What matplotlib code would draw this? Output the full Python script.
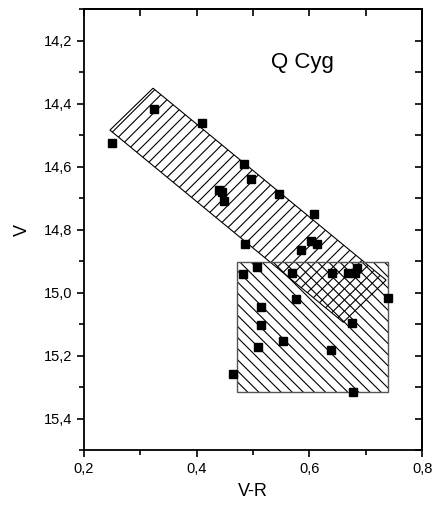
import matplotlib
matplotlib.use('Agg')
import matplotlib.pyplot as plt
from matplotlib.patches import Polygon, Rectangle
from matplotlib.ticker import FuncFormatter, MultipleLocator

plt.rcParams['font.family'] = ['Liberation Sans', 'DejaVu Sans']
plt.rcParams['hatch.linewidth'] = 0.8

# observed points (V-R, V)
vr = [0.250, 0.324, 0.409, 0.483, 0.496, 0.439, 0.445, 0.448, 0.546, 0.608,
      0.486, 0.603, 0.614, 0.585, 0.569, 0.640, 0.669, 0.681, 0.684, 0.576,
      0.739, 0.675, 0.507, 0.482, 0.514, 0.514, 0.553, 0.509, 0.639, 0.465,
      0.678]
v = [14.524, 14.418, 14.461, 14.590, 14.640, 14.673, 14.679, 14.708, 14.688, 14.750,
     14.844, 14.836, 14.847, 14.864, 14.937, 14.939, 14.937, 14.939, 14.923, 15.021,
     15.017, 15.096, 14.920, 14.942, 15.045, 15.102, 15.153, 15.172, 15.183, 15.259,
     15.315]

# hatched regions
band_vr = [0.246, 0.3225, 0.736, 0.660]
band_v = [14.484, 14.351, 14.960, 15.094]
box_vr = [0.471, 0.739]
box_v = [14.902, 15.315]

fig = plt.figure(figsize=(4.33, 5.07), dpi=100)
ax = fig.add_axes([0.194, 0.112, 0.781, 0.870])

ax.add_patch(Polygon(list(zip(band_vr, band_v)), closed=True, facecolor='none',
                     edgecolor='black', linewidth=0.8, hatch='///'))
# hatch in black, outline in grey
ax.add_patch(Rectangle((box_vr[0], box_v[0]), box_vr[1] - box_vr[0], box_v[1] - box_v[0],
                       facecolor='none', edgecolor='black', linewidth=0, hatch='\\\\\\'))
ax.add_patch(Rectangle((box_vr[0], box_v[0]), box_vr[1] - box_vr[0], box_v[1] - box_v[0],
                       facecolor='none', edgecolor='#555555', linewidth=1.0))
ax.plot(vr, v, 's', color='black', markersize=6.3, zorder=5)

ax.set_xlim(0.2, 0.8)
ax.set_ylim(15.5, 14.1)
ax.xaxis.set_major_locator(MultipleLocator(0.2))
ax.xaxis.set_minor_locator(MultipleLocator(0.1))
ax.yaxis.set_major_locator(MultipleLocator(0.2))
ax.yaxis.set_minor_locator(MultipleLocator(0.1))
comma = FuncFormatter(lambda val, pos: f'{val:.1f}'.replace('.', ','))
ax.xaxis.set_major_formatter(comma)
ax.yaxis.set_major_formatter(comma)
ax.tick_params(which='major', direction='out', length=5, width=1.2, labelsize=10.5)
ax.tick_params(which='minor', direction='out', length=3.5, width=1.2)

for side in ('top', 'right'):
    sec = ax.secondary_xaxis('top') if side == 'top' else ax.secondary_yaxis('right')
    axis = sec.xaxis if side == 'top' else sec.yaxis
    axis.set_major_locator(MultipleLocator(0.1))
    sec.tick_params(which='major', direction='in', length=5, width=1.2, labelsize=0)
    axis.set_major_formatter(FuncFormatter(lambda val, pos: ''))
    sec.spines[side].set_linewidth(1.3)

for s in ax.spines.values():
    s.set_linewidth(1.3)

ax.set_xlabel('V-R', fontsize=13, labelpad=5)
ax.set_ylabel('V', fontsize=13, labelpad=9)
ax.text(0.645, 0.88, 'Q Cyg', transform=ax.transAxes, fontsize=16, ha='center', va='center')

fig.savefig('out.png', dpi=100)
